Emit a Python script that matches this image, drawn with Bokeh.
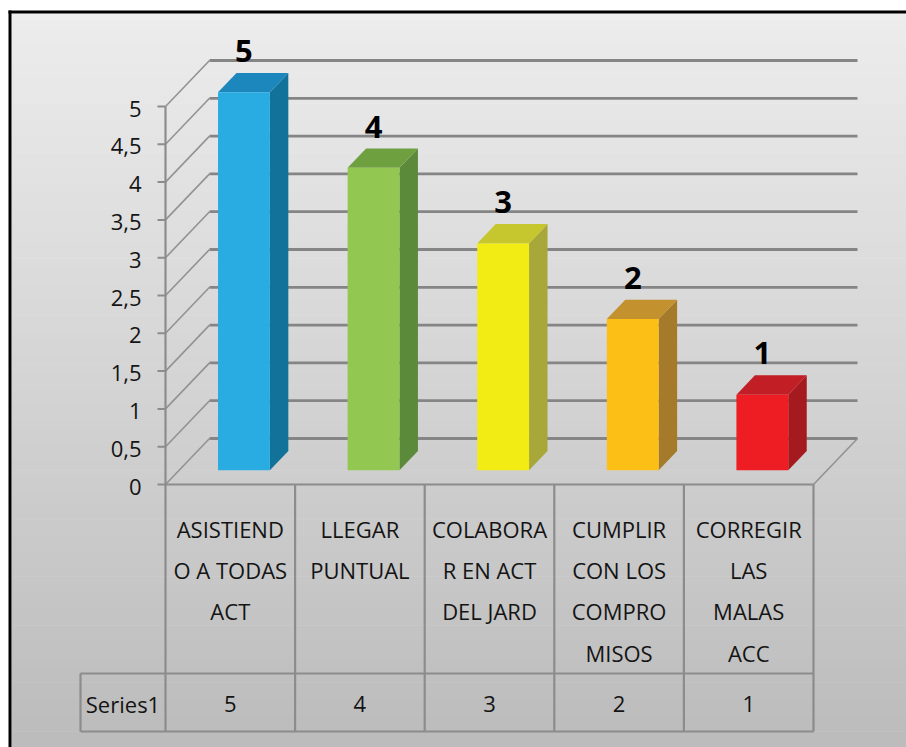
import numpy as np
from bokeh.plotting import figure
from bokeh.models import Range1d
from bokeh.core.properties import value
from bokeh.embed import file_html
from bokeh.resources import INLINE

# ---------------- data ----------------
categories = ["ASISTIENDO A TODAS ACT", "LLEGAR PUNTUAL", "COLABORAR EN ACT DEL JARD",
              "CUMPLIR CON LOS COMPROMISOS", "CORREGIR LAS MALAS ACC"]
category_lines = [["ASISTIEND", "O A TODAS", "ACT"],
                  ["LLEGAR", "PUNTUAL"],
                  ["COLABORA", "R EN ACT", "DEL JARD"],
                  ["CUMPLIR", "CON LOS", "COMPRO", "MISOS"],
                  ["CORREGIR", "LAS", "MALAS", "ACC"]]
series_name = "Series1"
values = [5, 4, 3, 2, 1]
y_ticks = [0, 0.5, 1, 1.5, 2, 2.5, 3, 3.5, 4, 4.5, 5]
y_tick_labels = ["0", "0,5", "1", "1,5", "2", "2,5", "3", "3,5", "4", "4,5", "5"]
front_colors = ["#29ACE2", "#92C851", "#F2EB14", "#FCBF15", "#EE1D24"]
side_colors = ["#137299", "#5B8A3A", "#A8A83A", "#A57B2B", "#A41A1F"]
top_colors = ["#1B87BC", "#6FA040", "#C6C62F", "#C3912D", "#C21E25"]

# ---------------- layout ----------------
W, H = 906, 747
OX, OY = 165, 484          # pixel position of (category 0, value 0)
UX, UY = 129.6, 75.6       # pixels per category / per value unit
n = len(values)
FONT = "Open Sans"


def ddx(px):
    return px / UX


def ddy(px):
    return px / UY


def X(px):
    return (px - OX) / UX


def Y(py):
    return (OY - py) / UY


DX, DY = ddx(44), ddy(46)  # depth of the 3-D box
FD, BD = 0.31, 0.73        # bar front / back depth fractions
BW = 0.40                  # bar width in category units

p = figure(width=W, height=H, output_backend="svg", toolbar_location=None,
           x_range=Range1d(X(0), X(W)), y_range=Range1d(Y(H), Y(0)),
           min_border=0, min_border_left=0, min_border_right=0,
           min_border_top=0, min_border_bottom=0)
p.axis.visible = False
p.grid.visible = False
p.outline_line_color = None
p.background_fill_color = "white"
p.border_fill_color = "white"

# background gradient
NS = 90
edges = np.linspace(13, H, NS + 1)
c0, c1 = np.array([237, 237, 237]), np.array([188, 188, 188])
cols = []
for k in range(NS):
    t = k / (NS - 1)
    c = (c0 + (c1 - c0) * t).astype(int)
    cols.append("#%02x%02x%02x" % tuple(c))
p.quad(left=[X(11)] * NS, right=[X(W)] * NS,
       top=[Y(e) for e in edges[:-1]], bottom=[Y(e + 0.6) for e in edges[1:]],
       fill_color=cols, line_color=None)
# black frame (left and top)
p.quad(left=[X(8), X(8)], right=[X(11), X(W)], top=[Y(10), Y(10)], bottom=[Y(H), Y(13)],
       fill_color="black", line_color=None)

grid_col = "#858585"
# back wall gridlines
p.multi_line(xs=[[DX, n + DX] for t in y_ticks], ys=[[t + DY, t + DY] for t in y_ticks],
             line_color=grid_col, line_width=2.8)
# side wall diagonals
p.multi_line(xs=[[0, DX] for t in y_ticks], ys=[[t, t + DY] for t in y_ticks],
             line_color="#929292", line_width=1.6)
# tick marks
p.multi_line(xs=[[X(157), 0] for t in y_ticks], ys=[[t, t] for t in y_ticks],
             line_color="#8C8C8C", line_width=2)
# floor right edge
p.line(x=[n, n + DX], y=[0, DY], line_color="#929292", line_width=1.6)

# bars
front_xs, front_ys, side_xs, side_ys, top_xs, top_ys = [], [], [], [], [], []
for i, v in enumerate(values):
    xl = i + 0.5 - BW / 2
    xr = i + 0.5 + BW / 2
    fx, fy = FD * DX, FD * DY
    bx, by = BD * DX, BD * DY
    front_xs.append([xl + fx, xr + fx, xr + fx, xl + fx])
    front_ys.append([fy, fy, v + fy, v + fy])
    side_xs.append([xr + fx, xr + bx, xr + bx, xr + fx])
    side_ys.append([fy, by, v + by, v + fy])
    top_xs.append([xl + fx, xr + fx, xr + bx, xl + bx])
    top_ys.append([v + fy, v + fy, v + by, v + by])
p.patches(side_xs, side_ys, fill_color=side_colors, line_color=None)
p.patches(top_xs, top_ys, fill_color=top_colors, line_color=None)
p.patches(front_xs, front_ys, fill_color=front_colors, line_color=None)

# data labels
p.text(x=[i + 0.5 + FD * DX for i in range(n)],
       y=[v + BD * DY + ddy(22) for v in values],
       text=[str(v) for v in values], text_align="center", text_baseline="middle",
       text_font=value(FONT), text_font_style="bold",
       text_font_size=value("31px"), text_color="black")

# y axis labels
p.text(x=[X(141)] * len(y_ticks), y=[t - ddy(2) for t in y_ticks], text=y_tick_labels,
       text_align="right", text_baseline="middle",
       text_font=value(FONT), text_font_size=value("22px"),
       text_color="#141414")

# data table
tab_col = "#8C8C8C"
row1, row2 = Y(673), Y(731)
left_cell = X(80)
p.multi_line(xs=[[0, n], [left_cell, n], [left_cell, n]],
             ys=[[0, 0], [row1, row1], [row2, row2]],
             line_color=tab_col, line_width=2.2)
p.multi_line(xs=[[i, i] for i in range(n + 1)] + [[left_cell, left_cell]],
             ys=[[5 if i == 0 else 0, row2] for i in range(n + 1)] + [[row1, row2]],
             line_color=tab_col, line_width=2.2)

lx, ly, lt = [], [], []
for i, lines in enumerate(category_lines):
    for k, s in enumerate(lines):
        lx.append(i + 0.5)
        ly.append(Y(528 + k * 41.4))
        lt.append(s)
p.text(x=lx, y=ly, text=lt, text_align="center", text_baseline="middle",
       text_font=value(FONT), text_font_size=value("22px"),
       text_color="#141414")

rowy = Y(703)
p.text(x=[i + 0.5 for i in range(n)] + [left_cell / 2], y=[rowy] * (n + 1),
       text=[str(v) for v in values] + [series_name], text_align="center",
       text_baseline="middle", text_font=value(FONT),
       text_font_size=value("22px"), text_color="#141414")

open("out.html", "w").write(file_html(p, INLINE))
